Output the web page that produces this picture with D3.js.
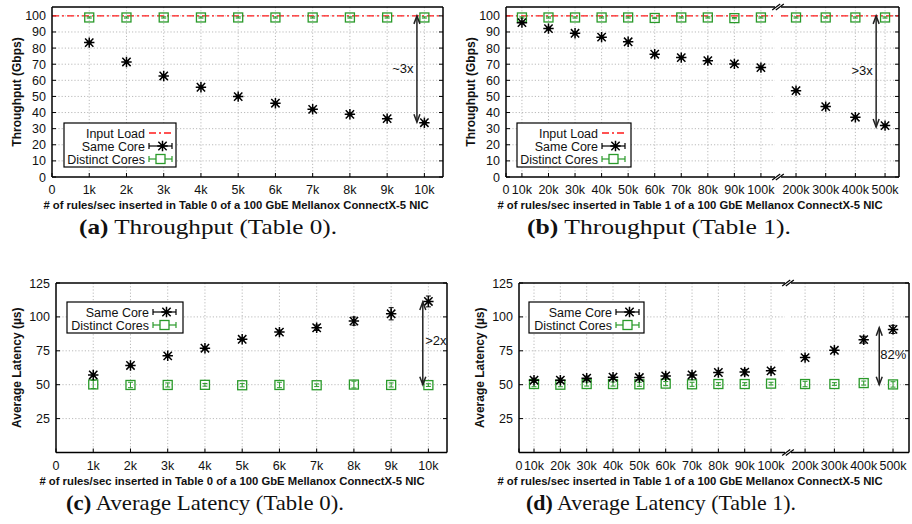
<!DOCTYPE html>
<html>
<head>
<meta charset="utf-8">
<script src="https://cdn.jsdelivr.net/npm/d3@7"></script>
<style>
  body { margin: 0; background: #fff; }
  svg { display: block; }
  text { font-family: "Liberation Sans", Arial, sans-serif; fill: #111; }
  .cap { font-family: "Liberation Serif", "DejaVu Serif", serif; }
</style>
</head>
<body>
<svg id="chart" width="912" height="524"></svg>
<script>
// ---- data (x in thousands of rules/sec) ----
const xTable0 = [1, 2, 3, 4, 5, 6, 7, 8, 9, 10];
const xTable0Ticks = [0, 1, 2, 3, 4, 5, 6, 7, 8, 9, 10];
const xTable0Labels = ["0", "1k", "2k", "3k", "4k", "5k", "6k", "7k", "8k", "9k", "10k"];

const xTable1 = [10, 20, 30, 40, 50, 60, 70, 80, 90, 100, 200, 300, 400, 500];
const xTable1Ticks = [0, 10, 20, 30, 40, 50, 60, 70, 80, 90, 100, 200, 300, 400, 500];
const xTable1Labels = ["0", "10k", "20k", "30k", "40k", "50k", "60k", "70k", "80k", "90k", "100k", "200k", "300k", "400k", "500k"];

const yTputTicks = [0, 10, 20, 30, 40, 50, 60, 70, 80, 90, 100];
const yLatTicks = [25, 50, 75, 100, 125];

const inputLoad = 100;

const sameTput0 = [83.4, 71.4, 62.7, 55.7, 49.9, 45.8, 42.0, 38.9, 36.2, 33.7];
const sameTput0Err = [0.8, 0.8, 0.8, 0.8, 0.8, 0.8, 0.8, 0.8, 0.8, 0.8];
const distTput0 = [99, 99, 99, 99, 99, 99, 99, 99, 99, 99];
const distTput0Err = [0.4, 0.4, 0.4, 0.4, 0.4, 0.4, 0.4, 0.4, 0.4, 0.4];

const sameTput1 = [95.8, 92.1, 89.2, 86.8, 83.9, 76.2, 74.1, 72.2, 70.2, 67.9, 53.6, 43.7, 37.1, 31.9];
const sameTput1Err = [0.8, 0.8, 0.8, 0.8, 0.8, 0.8, 0.8, 0.8, 0.8, 0.8, 0.8, 0.8, 0.8, 0.8];
const distTput1 = [99, 99, 99, 99, 99, 98.7, 99, 99, 98.6, 99, 99, 99, 99, 99];
const distTput1Err = [0.4, 0.4, 0.4, 0.4, 0.4, 0.4, 0.4, 0.4, 0.4, 0.4, 0.4, 0.4, 0.4, 0.4];

const sameLat0 = [57.2, 64.2, 71.3, 76.9, 83.5, 88.8, 92.0, 96.9, 102.3, 111.4];
const sameLat0Err = [1, 1, 1, 1, 1, 1.5, 2, 3, 4.5, 4];
const distLat0 = [50.2, 49.8, 49.8, 49.9, 49.6, 49.8, 49.6, 50.1, 49.8, 49.7];
const distLat0Err = [3, 2, 1.5, 1, 1.2, 2, 1, 2.5, 1.5, 1];

const sameLat1 = [53.3, 53.3, 54.8, 55.5, 55.3, 56.5, 57.2, 59.0, 59.3, 60.2, 70.0, 75.4, 83.2, 90.8];
const sameLat1Err = [1.5, 1.5, 1.5, 1.5, 1.5, 1.5, 1.5, 1.5, 2, 1.5, 1.5, 1.5, 2.5, 3];
const distLat1 = [50.5, 50, 50.5, 50.5, 50.3, 50.8, 50.3, 50.5, 50.5, 50.8, 50.5, 50.5, 51.2, 50.2];
const distLat1Err = [2, 1.5, 1.5, 1.5, 1.5, 1.5, 1.5, 1, 1, 1, 2, 1, 1.5, 2];

const GREEN = "#2a9a2a";
const RED = "#ff1a1a";

const svg = d3.select("#chart");

function drawPanel(cfg) {
  const top = cfg.top, bottom = cfg.bottom;
  const y = d3.scaleLinear().domain(cfg.yDomain).range([bottom, top]);
  const segs = cfg.segs.map(s => ({ ...s, x: d3.scaleLinear().domain(s.domain).range(s.range) }));
  const left = segs[0].range[0], right = segs[segs.length - 1].range[1];
  const segOf = v => segs.find(s => v >= s.domain[0] - 1e-9 && v <= s.domain[1]) || segs[0];
  const xpos = v => { const s = segOf(v); return s.x(Math.max(v, s.domain[0])); };
  const g = svg.append("g");

  // grid
  segs.forEach(s => {
    g.selectAll(null).data(cfg.yTicks.filter(t => t > cfg.yDomain[0] && t < cfg.yDomain[1])).join("line")
      .attr("x1", s.range[0]).attr("x2", s.range[1])
      .attr("y1", d => y(d)).attr("y2", d => y(d))
      .attr("stroke", "#aaa").attr("stroke-width", 0.8).attr("stroke-dasharray", "1.2,2");
  });
  const xt = cfg.xTicks.map((v, i) => ({ v, label: cfg.xLabels[i], px: xpos(v) }));
  g.selectAll(null).data(xt.filter(d => d.px > left + 1 && d.px < right - 1)).join("line")
    .attr("x1", d => d.px).attr("x2", d => d.px).attr("y1", top).attr("y2", bottom)
    .attr("stroke", "#aaa").attr("stroke-width", 0.8).attr("stroke-dasharray", "1.2,2");

  // tick marks
  g.selectAll(null).data(xt).join("line")
    .attr("x1", d => d.px).attr("x2", d => d.px).attr("y1", bottom).attr("y2", bottom - 4)
    .attr("stroke", "#000").attr("stroke-width", 1);
  g.selectAll(null).data(cfg.yTicks).join("line")
    .attr("x1", left).attr("x2", left + 4).attr("y1", d => y(d)).attr("y2", d => y(d))
    .attr("stroke", "#000").attr("stroke-width", 1);
  g.selectAll(null).data(cfg.yTicks).join("line")
    .attr("x1", right).attr("x2", right - 4).attr("y1", d => y(d)).attr("y2", d => y(d))
    .attr("stroke", "#000").attr("stroke-width", 1);

  // tick labels
  g.selectAll(null).data(xt).join("text")
    .attr("x", d => d.px).attr("y", bottom + 17)
    .attr("text-anchor", "middle").attr("font-size", 12.5).text(d => d.label);
  g.selectAll(null).data(cfg.yTicks).join("text")
    .attr("x", left - 6).attr("y", d => y(d) + 4.5)
    .attr("text-anchor", "end").attr("font-size", 12.5).text(d => d);

  // input load line
  if (cfg.inputLoad != null) {
    segs.forEach(s => {
      g.append("line").attr("x1", s.range[0]).attr("x2", s.range[1])
        .attr("y1", y(cfg.inputLoad)).attr("y2", y(cfg.inputLoad))
        .attr("stroke", RED).attr("stroke-width", 1.3).attr("stroke-dasharray", "7,3,2,3");
    });
  }

  // series
  const dist = cfg.xs.map((v, i) => ({ px: xpos(v), v: cfg.dist[i], e: cfg.distErr[i] }));
  const same = cfg.xs.map((v, i) => ({ px: xpos(v), v: cfg.same[i], e: cfg.sameErr[i] }));
  drawErr(g, dist, y, GREEN);
  g.selectAll(null).data(dist).join("rect")
    .attr("x", d => d.px - 4.5).attr("y", d => y(d.v) - 4.5)
    .attr("width", 9).attr("height", 9)
    .attr("fill", "none").attr("stroke", GREEN).attr("stroke-width", 1.3);
  drawErr(g, same, y, "#000");
  same.forEach(d => star(g, d.px, y(d.v), 5.2));

  // border
  segs.forEach(s => {
    g.append("line").attr("x1", s.range[0]).attr("x2", s.range[1]).attr("y1", top).attr("y2", top)
      .attr("stroke", "#000").attr("stroke-width", 1.5);
    g.append("line").attr("x1", s.range[0]).attr("x2", s.range[1]).attr("y1", bottom).attr("y2", bottom)
      .attr("stroke", "#000").attr("stroke-width", 1.5);
  });
  g.append("line").attr("x1", left).attr("x2", left).attr("y1", top).attr("y2", bottom)
    .attr("stroke", "#000").attr("stroke-width", 1.5);
  g.append("line").attr("x1", right).attr("x2", right).attr("y1", top).attr("y2", bottom)
    .attr("stroke", "#000").attr("stroke-width", 1.5);

  // break marks
  if (segs.length > 1) {
    const bx = (segs[0].range[1] + segs[1].range[0]) / 2;
    [top, bottom].forEach(yy => {
      [-1.8, 1.8].forEach(off => {
        g.append("line").attr("x1", bx + off - 4).attr("y1", yy + 3).attr("x2", bx + off + 4).attr("y2", yy - 3)
          .attr("stroke", "#000").attr("stroke-width", 1.2);
      });
    });
  }

  // arrow
  const a = cfg.arrow;
  const ax = xpos(a.x);
  arrow(g, ax, y(a.from), y(a.to));
  g.append("text").attr("x", ax + a.dx).attr("y", (y(a.from) + y(a.to)) / 2 + a.dy)
    .attr("text-anchor", "middle").attr("font-size", 13).attr("fill", "#222").text(a.text);

  // legend
  const L = cfg.legend;
  g.append("rect").attr("x", L.x).attr("y", L.y).attr("width", L.w).attr("height", L.h)
    .attr("fill", "#fff").attr("stroke", "#000").attr("stroke-width", 1.2);
  L.items.forEach((it, i) => {
    const ry = L.y + 10 + i * 13;
    g.append("text").attr("x", L.tx).attr("y", ry + 4.5).attr("text-anchor", "end")
      .attr("font-size", 12.5).text(it);
    const s0 = L.tx + 4, s1 = L.tx + 27, sm = (s0 + s1) / 2;
    if (it === "Input Load") {
      g.append("line").attr("x1", s0).attr("x2", s1).attr("y1", ry).attr("y2", ry)
        .attr("stroke", RED).attr("stroke-width", 1.3).attr("stroke-dasharray", "7,3,2,3");
    } else {
      const col = it === "Same Core" ? "#000" : GREEN;
      g.append("line").attr("x1", s0).attr("x2", s1).attr("y1", ry).attr("y2", ry).attr("stroke", col).attr("stroke-width", 1.2);
      [s0, s1].forEach(sx => g.append("line").attr("x1", sx).attr("x2", sx).attr("y1", ry - 3).attr("y2", ry + 3).attr("stroke", col).attr("stroke-width", 1.2));
      if (it === "Same Core") star(g, sm + 2, ry, 5.2);
      else g.append("rect").attr("x", sm - 4.5).attr("y", ry - 4.5).attr("width", 9).attr("height", 9)
        .attr("fill", "#fff").attr("stroke", GREEN).attr("stroke-width", 1.3);
    }
  });

  // axis titles
  svg.append("text").attr("transform", `translate(${cfg.yTitleX},${(top + bottom) / 2}) rotate(-90)`)
    .attr("text-anchor", "middle").attr("font-size", 12).attr("font-weight", "bold").text(cfg.yTitle);
  svg.append("text").attr("x", cfg.xTitleX).attr("y", bottom + 32)
    .attr("text-anchor", "middle").attr("font-size", 11.3).attr("font-weight", "bold").text(cfg.xTitle);

  // caption
  const cap = svg.append("text").attr("class", "cap").attr("x", cfg.capX).attr("y", cfg.capY)
    .attr("text-anchor", "middle").attr("font-size", 21)
    .attr("textLength", cfg.capW).attr("lengthAdjust", "spacingAndGlyphs");
  cap.append("tspan").attr("font-weight", "bold").text(cfg.capTag);
  cap.append("tspan").text(" " + cfg.capText);
}

function drawErr(g, pts, y, col) {
  pts.forEach(d => {
    const y0 = y(d.v - d.e), y1 = y(d.v + d.e);
    g.append("line").attr("x1", d.px).attr("x2", d.px).attr("y1", y0).attr("y2", y1).attr("stroke", col).attr("stroke-width", 1);
    [y0, y1].forEach(yy => g.append("line").attr("x1", d.px - 2.5).attr("x2", d.px + 2.5).attr("y1", yy).attr("y2", yy).attr("stroke", col).attr("stroke-width", 1));
  });
}

function star(g, cx, cy, r) {
  const d = r * 0.8;
  const p = `M${cx - r},${cy}H${cx + r}M${cx},${cy - r}V${cy + r}M${cx - d},${cy - d}L${cx + d},${cy + d}M${cx - d},${cy + d}L${cx + d},${cy - d}`;
  g.append("path").attr("d", p).attr("stroke", "#000").attr("stroke-width", 1.5).attr("fill", "none");
}

function arrow(g, x, y0, y1) {
  g.append("line").attr("x1", x).attr("x2", x).attr("y1", y0).attr("y2", y1).attr("stroke", "#222").attr("stroke-width", 1.5);
  const h = 8, w = 3;
  g.append("path").attr("d", `M${x - w},${y0 + h}L${x},${y0}L${x + w},${y0 + h}`).attr("stroke", "#222").attr("stroke-width", 1.5).attr("fill", "none");
  g.append("path").attr("d", `M${x - w},${y1 - h}L${x},${y1}L${x + w},${y1 - h}`).attr("stroke", "#222").attr("stroke-width", 1.5).attr("fill", "none");
}

drawPanel({
  top: 7, bottom: 177, yDomain: [0, 105.5], yTicks: yTputTicks,
  segs: [{ domain: [0, 10.5], range: [52, 443] }],
  xTicks: xTable0Ticks, xLabels: xTable0Labels, xs: xTable0,
  same: sameTput0, sameErr: sameTput0Err, dist: distTput0, distErr: distTput0Err,
  inputLoad: inputLoad,
  arrow: { x: 9.8, from: 100, to: 34, text: "~3x", dx: -14, dy: 4 },
  legend: { x: 64, y: 123, w: 112, h: 44, tx: 145, items: ["Input Load", "Same Core", "Distinct Cores"] },
  yTitle: "Throughput (Gbps)", yTitleX: 21,
  xTitle: "# of rules/sec inserted in Table 0 of a 100 GbE Mellanox ConnectX-5 NIC", xTitleX: 236,
  capTag: "(a)", capText: "Throughput (Table 0).", capX: 208, capY: 234, capW: 258
});

drawPanel({
  top: 7, bottom: 177, yDomain: [0, 105.5], yTicks: yTputTicks,
  segs: [{ domain: [4.0, 105.3], range: [506, 775] }, { domain: [149.4, 547], range: [781, 899] }],
  xTicks: xTable1Ticks, xLabels: xTable1Labels, xs: xTable1,
  same: sameTput1, sameErr: sameTput1Err, dist: distTput1, distErr: distTput1Err,
  inputLoad: inputLoad,
  arrow: { x: 470, from: 100, to: 31, text: ">3x", dx: -14, dy: 4 },
  legend: { x: 517, y: 123, w: 114, h: 44, tx: 598, items: ["Input Load", "Same Core", "Distinct Cores"] },
  yTitle: "Throughput (Gbps)", yTitleX: 475,
  xTitle: "# of rules/sec inserted in Table 1 of a 100 GbE Mellanox ConnectX-5 NIC", xTitleX: 690,
  capTag: "(b)", capText: "Throughput (Table 1).", capX: 659, capY: 234, capW: 264
});

drawPanel({
  top: 283, bottom: 452.5, yDomain: [0, 125], yTicks: yLatTicks,
  segs: [{ domain: [0, 10.5], range: [56, 447] }],
  xTicks: xTable0Ticks, xLabels: xTable0Labels, xs: xTable0,
  same: sameLat0, sameErr: sameLat0Err, dist: distLat0, distErr: distLat0Err,
  inputLoad: null,
  arrow: { x: 9.85, from: 111, to: 50, text: ">2x", dx: 13, dy: 2 },
  legend: { x: 67, y: 302, w: 116, h: 31, tx: 149, items: ["Same Core", "Distinct Cores"] },
  yTitle: "Average Latency (µs)", yTitleX: 21,
  xTitle: "# of rules/sec inserted in Table 0 of a 100 GbE Mellanox ConnectX-5 NIC", xTitleX: 232,
  capTag: "(c)", capText: "Average Latency (Table 0).", capX: 205, capY: 510, capW: 278
});

drawPanel({
  top: 283, bottom: 452.5, yDomain: [0, 125], yTicks: yLatTicks,
  segs: [{ domain: [4.3, 105.3], range: [519, 785] }, { domain: [152, 554.5], range: [791, 909] }],
  xTicks: xTable1Ticks, xLabels: xTable1Labels, xs: xTable1,
  same: sameLat1, sameErr: sameLat1Err, dist: distLat1, distErr: distLat1Err,
  inputLoad: null,
  arrow: { x: 453, from: 92, to: 50, text: "82%", dx: 14, dy: 3 },
  legend: { x: 529, y: 302, w: 115, h: 31, tx: 612, items: ["Same Core", "Distinct Cores"] },
  yTitle: "Average Latency (µs)", yTitleX: 484,
  xTitle: "# of rules/sec inserted in Table 1 of a 100 GbE Mellanox ConnectX-5 NIC", xTitleX: 690,
  capTag: "(d)", capText: "Average Latency (Table 1).", capX: 661, capY: 510, capW: 270
});
</script>
</body>
</html>
